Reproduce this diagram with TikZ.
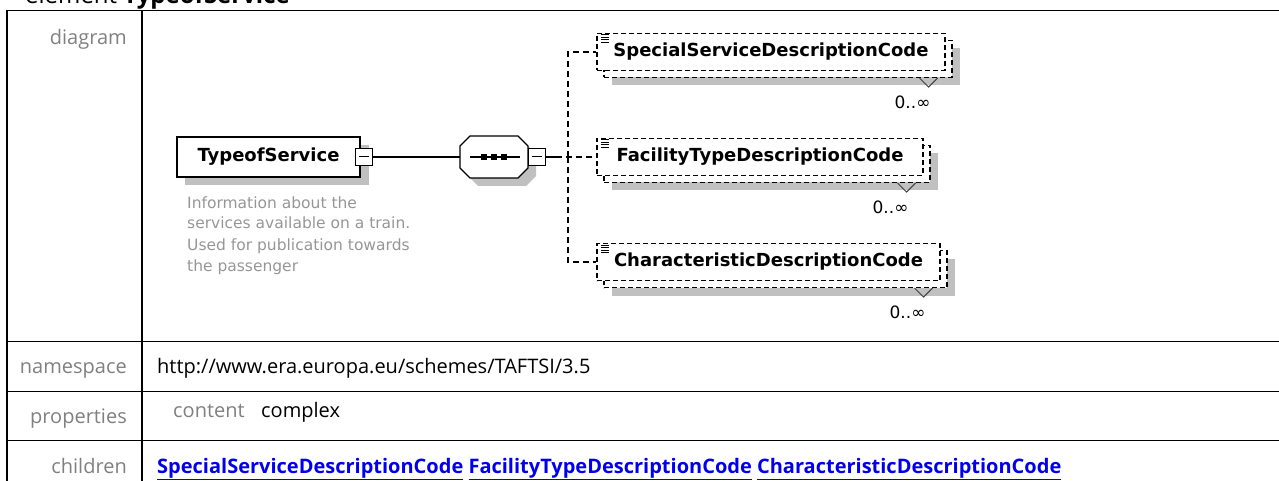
\documentclass[tikz,border=0pt]{standalone}
\usepackage{fontspec}
\setmainfont{Open Sans}
\newfontfamily\dgfont{DejaVu Sans}
\definecolor{labgray}{RGB}{128,128,128}
\definecolor{shgray}{RGB}{192,192,192}
\definecolor{descgray}{RGB}{150,150,150}
\definecolor{linkblue}{RGB}{0,0,238}
\newcommand\ntfont{\dgfont\bfseries\fontsize{18}{20}\selectfont}
\tikzset{
  tline/.style={line width=1.1pt, black},
  lbl/.style={anchor=base east, inner sep=0, text=labgray, font=\fontsize{20}{24}\selectfont},
  val/.style={anchor=base west, inner sep=0, font=\fontsize{20}{24}\selectfont},
  elbox/.style={draw, line width=1.3pt, fill=white},
  minusbox/.style={draw, line width=1pt, fill=white, minimum size=17pt, inner sep=0,
    path picture={\draw[line width=1pt] ([xshift=-5pt]path picture bounding box.center) -- ([xshift=5pt]path picture bounding box.center);}},
  conn/.style={line width=1.1pt},
  dconn/.style={line width=1.1pt, dash pattern=on 6pt off 4pt},
  dbox/.style={draw, line width=1.1pt, dash pattern=on 5pt off 3pt, fill=white, inner sep=0, minimum height=37pt},
  shbox/.style={fill=shgray, draw=none, inner sep=0, minimum height=37pt},
  chev/.style={line width=1pt, draw=black!75},
  mult/.style={inner sep=0, font=\dgfont\fontsize{17}{20}\selectfont},
  listicon/.style={line width=0.9pt},
  desc/.style={anchor=base west, inner sep=0, text=descgray, font=\dgfont\fontsize{15.5}{21}\selectfont}
}
\begin{document}
\begin{tikzpicture}[x=1pt,y=-1pt]
\useasboundingbox (0,0) rectangle (1279,481);
\clip (0,0) rectangle (1279,481);
% title
\node[anchor=base west, inner sep=0, font=\fontsize{24}{28}\selectfont] (title) at (25,4) {element \textbf{TypeofService}};
% table
\draw[tline] (7,481) -- (7,10.5) -- (1279,10.5);
\draw[tline] (142,10.5) -- (142,481);
\draw[tline] (7,341.5) -- (1279,341.5);
\draw[tline] (7,391.5) -- (1279,391.5);
\draw[tline] (7,440.5) -- (1279,440.5);
\node[lbl] (l1) at (127,45) {diagram};
\node[lbl] (l2) at (127,373) {namespace};
\node[lbl] (l3) at (127,423) {properties};
\node[lbl] (l4) at (127,473) {children};
\node[val] (v2) at (157,373) {http://www.era.europa.eu/schemes/TAFTSI/3.5};
\node[val, text=labgray] (v3a) at (173,417) {content};
\node[val] (v3b) at (261,417) {complex};
\node[val, text=linkblue, font=\fontsize{20}{24}\selectfont\bfseries] (v4) at (157,473)
  {\underline{SpecialServiceDescriptionCode} \underline{FacilityTypeDescriptionCode} \underline{CharacteristicDescriptionCode}};
% root element
\fill[shgray] (185,145) rectangle (369,185);
\node[elbox, minimum width=183pt, minimum height=40pt, inner sep=0, font=\ntfont] (root) at (268.5,157) {TypeofService};
\node[desc] (d1) at (187,208) {Information about the};
\node[desc] (d2) at (187,229) {services available on a train.};
\node[desc] (d3) at (187,250) {Used for publication towards};
\node[desc] (d4) at (187,271) {the passenger};
\node[minusbox] (rm) at (364,157) {};
% sequence
\node[minimum width=68pt, minimum height=42pt, inner sep=0] (seq) at (494,157) {};
\fill[shgray, shift={(8,8)}] (470,136) -- (518,136) -- (528,146) -- (528,168) -- (518,178) -- (470,178) -- (460,168) -- (460,146) -- cycle;
\draw[elbox] (470,136) -- (518,136) -- (528,146) -- (528,168) -- (518,178) -- (470,178) -- (460,168) -- (460,146) -- cycle;
\draw[line width=1.2pt] (470,157) -- (520,157);
\foreach \sx in {484,494,504} {\fill (\sx,157) +(-2.6,-2.6) rectangle +(2.6,2.6);}
\node[minusbox] (sm) at (536.5,157) {};
\draw[conn] (rm.east) -- (seq.west);
% children boxes
\node[shbox, minimum width=348pt] (c1s) at (786,67) {};
\node[dbox, minimum width=348pt] (c1b) at (778,59) {};
\node[dbox, minimum width=348pt, font=\ntfont] (c1) at (771,52) {SpecialServiceDescriptionCode};
\node[shbox, minimum width=326pt] (c2s) at (775,172) {};
\node[dbox, minimum width=326pt] (c2b) at (767,164) {};
\node[dbox, minimum width=326pt, font=\ntfont] (c2) at (760,157) {FacilityTypeDescriptionCode};
\node[shbox, minimum width=343pt] (c3s) at (783.5,277) {};
\node[dbox, minimum width=343pt] (c3b) at (775.5,269) {};
\node[dbox, minimum width=343pt, font=\ntfont] (c3) at (768.5,262) {CharacteristicDescriptionCode};
% connectors
\coordinate (stub) at (556,157);
\coordinate (bus) at (568,157);
\draw[conn] (sm.east) -- (stub);
\draw[dconn] (stub) -- (c2.west);
\draw[dconn] (bus) |- (c1.west);
\draw[dconn] (bus) |- (c3.west);
% icons, chevrons, multiplicities
\foreach \n in {c1,c2,c3} {
  \foreach \dy in {2,4.5,7,9.5} {
    \draw[listicon] ([xshift=5pt,yshift=-\dy pt]\n.north west) -- ++(8,0);
  }
}
\foreach \n/\m in {c1b/m1,c2b/m2,c3b/m3} {
  \draw[chev] ([xshift=-33pt]\n.south east) -- ++(9,9) -- ++(9,-9);
  \node[mult] (\m) at ([xshift=-40pt,yshift=-24pt]\n.south east) {0..∞};
}
\end{tikzpicture}
\end{document}
